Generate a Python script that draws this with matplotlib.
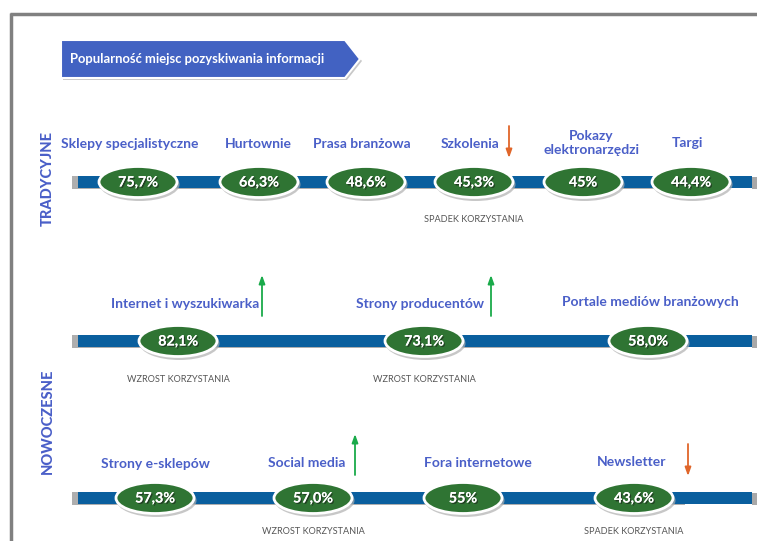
import matplotlib
matplotlib.use("Agg")
import matplotlib.pyplot as plt
from matplotlib.patches import Ellipse, Rectangle, Polygon
import matplotlib.patheffects as pe

# ---------------- data ----------------
title = "Popularność miejsc pozyskiwania informacji"
group_labels = ["TRADYCYJNE", "NOWOCZESNE"]

row1_names = ["Sklepy specjalistyczne", "Hurtownie", "Prasa branżowa", "Szkolenia",
              "Pokazy\nelektronarzędzi", "Targi"]
row1_values = ["75,7%", "66,3%", "48,6%", "45,3%", "45%", "44,4%"]
row1_trend = [None, None, None, "down", None, None]

row2_names = ["Internet i wyszukiwarka", "Strony producentów", "Portale mediów branżowych"]
row2_values = ["82,1%", "73,1%", "58,0%"]
row2_trend = ["up", "up", None]

row3_names = ["Strony e-sklepów", "Social media", "Fora internetowe", "Newsletter"]
row3_values = ["57,3%", "57,0%", "55%", "43,6%"]
row3_trend = [None, "up", None, "down"]

trend_text = {"up": "WZROST KORZYSTANIA", "down": "SPADEK KORZYSTANIA"}

# ---------------- layout ----------------
W, H = 757, 541
BLUE_TXT = "#4a5fc8"
BAR = "#0a5f9e"
GREEN = "#2f7433"
BANNER = "#4262c2"
ORANGE = "#e0662a"
ARROW_G = "#1aaa4a"

rows = [
    dict(names=row1_names, values=row1_values, trend=row1_trend, y=182,
         xs=[138, 259, 366, 474, 583, 691],
         label_dx=[-8, -1, -4, -4, 8, -4], label_y=[144, 144, 144, 144, 143, 143],
         arrow_x=[None, None, None, 509, None, None], note_dy=37),
    dict(names=row2_names, values=row2_values, trend=row2_trend, y=341,
         xs=[178, 424, 648],
         label_dx=[7, -4, 2], label_y=[304, 304, 302],
         arrow_x=[262, 491, None], note_dy=38),
    dict(names=row3_names, values=row3_values, trend=row3_trend, y=498,
         xs=[155, 313, 463, 634],
         label_dx=[0, -6, 15, -2], label_y=[464, 463, 463, 462],
         arrow_x=[None, 355, None, 688], note_dy=33),
]

plt.rcParams['font.family'] = ['Lato', 'DejaVu Sans']

fig = plt.figure(figsize=(W / 100, H / 100), dpi=100)
ax = fig.add_axes([0, 0, 1, 1])
ax.set_xlim(0, W)
ax.set_ylim(H, 0)
ax.axis("off")

# frame
ax.plot([10, W], [13.5, 13.5], color="#808080", lw=2.5, solid_capstyle="butt")
ax.plot([10.5, 10.5], [13, H], color="#808080", lw=2.5, solid_capstyle="butt")

# title banner
shadow = Polygon([[63, 42], [347, 42], [362, 61], [347, 80], [63, 80]], closed=True,
                 facecolor="#c8c8c8", edgecolor="none", zorder=1)
ax.add_patch(shadow)
banner = Polygon([[61, 40], [345, 40], [360, 59], [345, 78], [61, 78]], closed=True,
                 facecolor=BANNER, edgecolor="white", lw=1.5, zorder=2)
ax.add_patch(banner)
ax.text(70, 59, title, color="white", fontsize=9.4, fontweight="bold",
        ha="left", va="center", zorder=3)

# group labels
ax.text(48, 178, group_labels[0], rotation=90, color=BLUE_TXT, fontsize=10.5,
        fontweight="black", ha="center", va="center")
ax.text(48, 421, group_labels[1], rotation=90, color=BLUE_TXT, fontsize=10.5,
        fontweight="black", ha="center", va="center")

for r in rows:
    y = r["y"]
    # bar with shadowed ends
    ax.add_patch(Rectangle((72, y - 6), 613, 13, facecolor="#9a9a9a",
                           edgecolor="none", zorder=1, alpha=0.8))
    ax.add_patch(Rectangle((78, y - 6), 752 - 78, 12, facecolor=BAR,
                           edgecolor="none", zorder=2))
    ax.add_patch(Rectangle((752, y - 5), 5, 12, facecolor="#a8a8a8",
                           edgecolor="none", zorder=1))
    for i, (name, val, tr) in enumerate(zip(r["names"], r["values"], r["trend"])):
        x = r["xs"][i]
        # ellipse shadow
        ax.add_patch(Ellipse((x + 1.5, y + 2.5), 80, 33, facecolor="#b0b0b0",
                             edgecolor="none", zorder=3, alpha=0.7))
        ax.add_patch(Ellipse((x, y), 78, 31, facecolor=GREEN, edgecolor="white",
                             lw=2, zorder=4))
        ax.text(x, y + 0.5, val, color="white", fontsize=10.3, fontweight="bold",
                ha="center", va="center", zorder=5,
                path_effects=[pe.withSimplePatchShadow(offset=(1, -1),
                                                       shadow_rgbFace="#1a1a1a", alpha=0.6),
                              pe.Normal()])
        lx = x + r["label_dx"][i]
        ax.text(lx, r["label_y"][i], name, color=BLUE_TXT, fontsize=10,
                fontweight="bold", ha="center", va="center", linespacing=1.15,
                zorder=5)
        if tr is not None:
            ax.text(x, y + r["note_dy"], trend_text[tr], color="#555555",
                    fontsize=6.6, ha="center", va="center", zorder=5)
            axp = r["arrow_x"][i]
            if tr == "up":
                y0, y1 = r["label_y"][i] + 12, r["label_y"][i] - 29
                col = ARROW_G
            else:
                y0, y1 = r["label_y"][i] - 18, r["label_y"][i] + 14
                col = ORANGE
            ax.annotate("", xy=(axp, y1), xytext=(axp, y0),
                        arrowprops=dict(arrowstyle="-|>,head_length=0.5,head_width=0.18",
                                        color=col, lw=1.3, shrinkA=0, shrinkB=0),
                        zorder=5)

fig.savefig("out.png", dpi=100)
